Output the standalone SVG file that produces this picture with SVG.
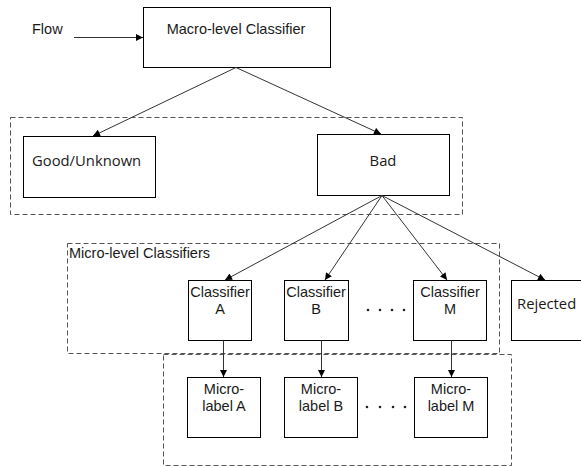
<svg xmlns="http://www.w3.org/2000/svg" width="581" height="466" viewBox="0 0 581 466">
<defs>
<marker id="ah" viewBox="0 0 10 10" refX="10" refY="5" markerWidth="9" markerHeight="7" markerUnits="userSpaceOnUse" orient="auto">
<path d="M0,0 L10,5 L0,10 z" fill="#000"/>
</marker>
</defs>
<style>
.box{fill:#fff;stroke:#000;stroke-width:1}
.grp{fill:none;stroke:#555;stroke-width:1;stroke-dasharray:5,3}
.a{font-family:"Liberation Sans",Arial,sans-serif;font-size:14.5px;fill:#1a1a1a}
.s{font-family:"Open Sans","DejaVu Sans",sans-serif;font-size:14.8px;fill:#1a1a1a}
.c{text-anchor:middle}
.ln{stroke:#333;stroke-width:1;fill:none;marker-end:url(#ah)}
.dot{fill:#222}
</style>
<rect x="0" y="0" width="581" height="466" fill="#fff"/>
<g id="groups">
<rect class="grp" x="10.5" y="117.5" width="452" height="97"/>
<rect class="grp" x="67.5" y="243.5" width="432" height="110"/>
<rect class="grp" x="163.5" y="354.5" width="348" height="111"/>
<text class="a" x="69" y="258">Micro-level Classifiers</text>
</g>
<g id="flow"><text class="a" x="32" y="34">Flow</text></g>
<g id="macro">
<rect class="box" x="143.5" y="7.5" width="187" height="60"/>
<text class="a c" x="236" y="34">Macro-level Classifier</text>
</g>
<g id="good">
<rect class="box" x="23.5" y="136.5" width="132" height="61"/>
<text class="s" x="32" y="166">Good/Unknown</text>
</g>
<g id="bad">
<rect class="box" x="317.5" y="134.5" width="132" height="61"/>
<text class="s c" x="383" y="166">Bad</text>
</g>
<g id="clsA">
<rect class="box" x="188.5" y="280.5" width="63" height="60"/>
<text class="a c" x="220" y="297">Classifier</text>
<text class="a c" x="220" y="314">A</text>
</g>
<g id="clsB">
<rect class="box" x="284.5" y="280.5" width="64" height="60"/>
<text class="a c" x="316" y="297">Classifier</text>
<text class="a c" x="316" y="314">B</text>
</g>
<g id="clsM">
<rect class="box" x="413.5" y="280.5" width="73" height="60"/>
<text class="a c" x="450" y="297">Classifier</text>
<text class="a c" x="450" y="314">M</text>
</g>
<g id="rejected">
<rect class="box" x="511.5" y="280.5" width="80" height="60"/>
<text class="s" x="517" y="309">Rejected</text>
</g>
<g id="mlA">
<rect class="box" x="187.5" y="377.5" width="73" height="60"/>
<text class="a c" x="224" y="394">Micro-</text>
<text class="a c" x="224" y="411">label A</text>
</g>
<g id="mlB">
<rect class="box" x="284.5" y="377.5" width="73" height="60"/>
<text class="a c" x="321" y="394">Micro-</text>
<text class="a c" x="321" y="411">label B</text>
</g>
<g id="mlM">
<rect class="box" x="414.5" y="377.5" width="73" height="60"/>
<text class="a c" x="451" y="394">Micro-</text>
<text class="a c" x="451" y="411">label M</text>
</g>
<g id="dots">
<circle class="dot" cx="368" cy="310" r="1.3"/><circle class="dot" cx="380" cy="310" r="1.3"/><circle class="dot" cx="392" cy="310" r="1.3"/><circle class="dot" cx="404" cy="310" r="1.3"/>
<circle class="dot" cx="367" cy="407" r="1.3"/><circle class="dot" cx="380" cy="407" r="1.3"/><circle class="dot" cx="393" cy="407" r="1.3"/><circle class="dot" cx="405" cy="407" r="1.3"/>
</g>
<g id="connectors">
<line class="ln" x1="74" y1="37.5" x2="143" y2="37.5"/>
<line class="ln" x1="236" y1="67.5" x2="93" y2="136"/>
<line class="ln" x1="236" y1="67.5" x2="381" y2="134"/>
<line class="ln" x1="382" y1="195.5" x2="225" y2="280"/>
<line class="ln" x1="382" y1="195.5" x2="325" y2="280"/>
<line class="ln" x1="382" y1="195.5" x2="447" y2="280"/>
<line class="ln" x1="382" y1="195.5" x2="545" y2="280"/>
<line class="ln" x1="223.5" y1="340.5" x2="223.5" y2="377"/>
<line class="ln" x1="321.5" y1="340.5" x2="321.5" y2="377"/>
<line class="ln" x1="451.5" y1="340.5" x2="451.5" y2="377"/>
</g>
</svg>
